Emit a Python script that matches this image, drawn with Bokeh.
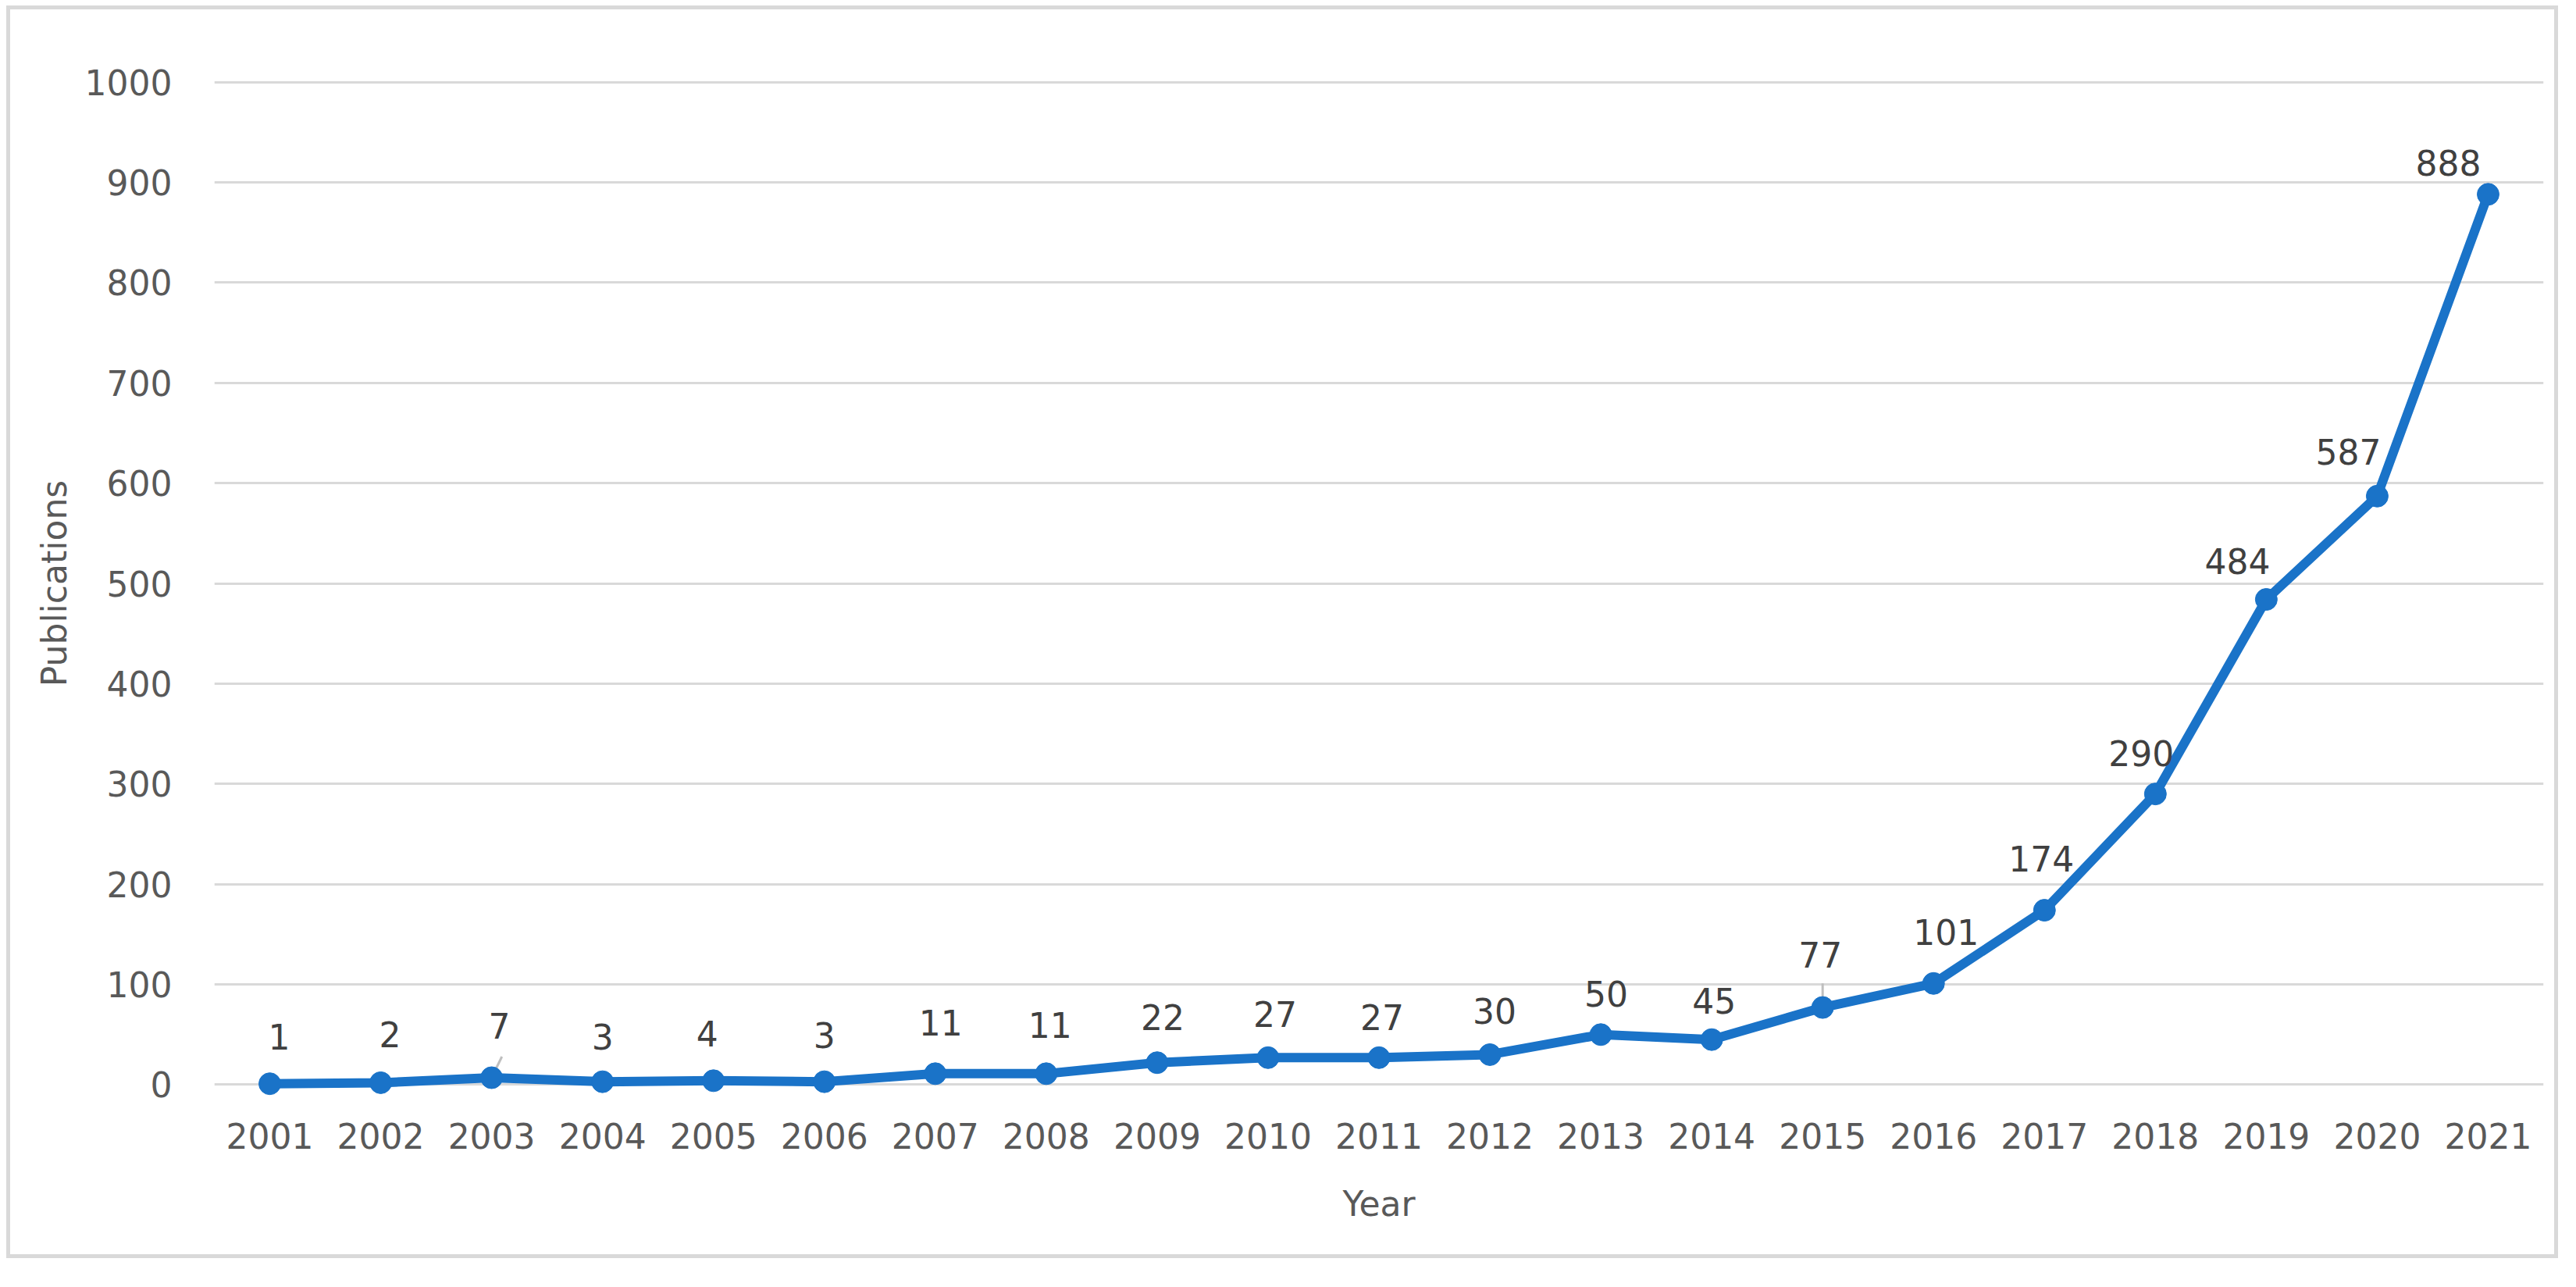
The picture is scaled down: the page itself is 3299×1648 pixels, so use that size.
from bokeh.plotting import figure
from bokeh.models import Range1d, FixedTicker, ColumnDataSource, FactorRange
from bokeh.embed import file_html
from bokeh.resources import INLINE
from bokeh.core.properties import value

# ---- data ----
years = ["2001", "2002", "2003", "2004", "2005", "2006", "2007", "2008", "2009", "2010",
         "2011", "2012", "2013", "2014", "2015", "2016", "2017", "2018", "2019", "2020", "2021"]
publications = [1, 2, 7, 3, 4, 3, 11, 11, 22, 27, 27, 30, 50, 45, 77, 101, 174, 290, 484, 587, 888]
y_ticks = [0, 100, 200, 300, 400, 500, 600, 700, 800, 900, 1000]

# ---- label placement (screen pixels, style only) ----
label_dx = [12, 12, 10, 0, -8, 0, 7, 5, 7, 9, 4, 6, 7, 3, -3, 16, -4, -18, -37, -37, -51]
label_dy = [-60, -62, -66, -58, -60, -60, -65, -62, -58, -56, -52, -56, -52, -50, -68, -66, -66, -52, -49, -57, -40]
leader_years = ["2003", "2015"]
leader_vals = [7, 77]
leader_len = [30, 31]
leader_angle = [64, 90]

FONT = "DejaVu Sans"
BLUE = "#1A73C8"
GREY_TXT = "#595959"
LABEL_TXT = "#404040"
GRID = "#D9D9D9"

src = ColumnDataSource(dict(
    year=years, pubs=publications,
    txt=[str(v) for v in publications],
    dx=label_dx, dy=label_dy,
))

p = figure(
    x_range=FactorRange(*years),
    y_range=Range1d(-30, 1030),
    width=3268, height=1604,
    output_backend="svg", toolbar_location=None,
    min_border_left=261, min_border_right=24,
    min_border_top=54, min_border_bottom=189,
    background_fill_color="white", border_fill_color="white",
)
p.styles = {"border": "5px solid #D9D9D9", "position": "relative", "left": "8px", "top": "7px"}
p.outline_line_color = None

# grid
p.xgrid.grid_line_color = None
p.ygrid.ticker = FixedTicker(ticks=y_ticks)
p.ygrid.grid_line_color = GRID
p.ygrid.grid_line_width = 3

# axes
p.yaxis.ticker = FixedTicker(ticks=y_ticks)
for ax in (p.xaxis[0], p.yaxis[0]):
    ax.axis_line_color = None
    ax.major_tick_line_color = None
    ax.minor_tick_line_color = None
    ax.major_tick_out = 0
    ax.major_tick_in = 0
    ax.major_label_text_font = FONT
    ax.major_label_text_font_size = "44px"
    ax.major_label_text_color = GREY_TXT
    ax.axis_label_text_font = FONT
    ax.axis_label_text_font_size = "44px"
    ax.axis_label_text_color = GREY_TXT
    ax.axis_label_text_font_style = "normal"

p.xaxis.axis_label = "Year"
p.xaxis.major_label_standoff = 10
p.xaxis.axis_label_standoff = 42
p.yaxis.axis_label = "Publications"
p.yaxis.major_label_standoff = 54
p.yaxis.axis_label_standoff = 11

# leader lines
p.ray(x=leader_years, y=leader_vals, length=leader_len, angle=leader_angle,
      angle_units="deg", length_units="screen", line_color="#BFBFBF", line_width=3)

# series
p.line(x="year", y="pubs", source=src, line_color=BLUE, line_width=12, line_join="round")
p.scatter(x="year", y="pubs", source=src, size=28, fill_color=BLUE, line_color=BLUE)

# data labels
p.text(x="year", y="pubs", text="txt", source=src, x_offset="dx", y_offset="dy",
       text_align="center", text_baseline="middle",
       text_font=value(FONT), text_font_size="44px", text_color=LABEL_TXT)

open("out.html", "w").write(file_html(p, INLINE))
